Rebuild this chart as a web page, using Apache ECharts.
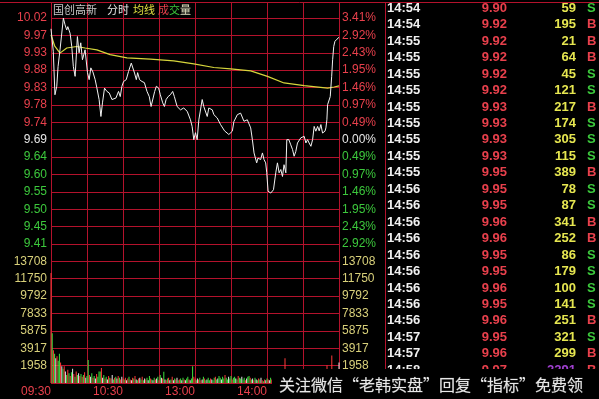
<!DOCTYPE html>
<html><head><meta charset="utf-8">
<script src="https://cdn.jsdelivr.net/npm/echarts@6/dist/echarts.min.js"></script>
<style>html,body{margin:0;padding:0;background:#000;}#c{width:599px;height:399px;}</style>
</head><body><div id="c"></div>
<script>
// ---------- data ----------
const PREV_CLOSE = 9.69;
const PCT_STEP = 3.41 / 7;
const VOL_MAX = 13708;
const priceTickLabels = ['10.02','9.97','9.93','9.88','9.83','9.78','9.74','9.69','9.64','9.60','9.55','9.50','9.45','9.41'];
const pctTickLabels = ['3.41%','2.92%','2.43%','1.95%','1.46%','0.97%','0.49%','0.00%','0.49%','0.97%','1.46%','1.95%','2.43%','2.92%'];
const volTickLabels = ['13708','11750','9792','7833','5875','3917','1958'];
const timeTickMinutes = [0, 60, 120, 180];
const timeTickLabels = ['09:30', '10:30', '13:00', '14:00'];

const priceMinutes = [0,1.9,3.3,4.8,5.9,7.5,10.3,11.7,13.1,14,15.9,17.3,18.6,20.1,22,23.4,24.8,26.2,28.4,30.4,31.8,33.2,34.9,36.8,38.2,40.1,41.6,42.9,44.6,46.6,48.5,50.8,52.1,54.1,56.3,57.7,59.1,60.5,62.7,64.6,66.9,68.3,69.6,71.1,72.2,73.8,75.8,77.8,80,81.9,83.4,85,86.4,87.8,89.7,91.1,93.1,94.5,95.9,97.6,99.5,101.4,102.8,105.1,107.9,110.6,113.5,116.2,117.6,119,120.4,121.8,123.2,126,127.3,130.2,131.5,134.4,135.7,138.5,141.3,144.6,148.2,151.1,152.4,155.3,158,160.8,163.6,166.4,167.8,169.2,171.4,172.5,174.7,176.2,177.5,178.9,179.8,180.9,183.1,185.4,187.3,188.7,190.1,191.5,192.9,194.2,195.7,196.5,198.2,199.8,201.3,202.6,204,205.4,208.2,209.6,211,212.4,213.8,215.1,216.6,218,219.3,220.7,222.2,223.5,224.9,226.3,228.3,229.1,229.9,230.5,231.9,232.7,233.9,234.7,235.6,236.6,238.3,240];
const prices = [9.991,9.930,9.812,9.835,9.889,9.934,10.020,10.002,9.988,9.997,9.979,9.943,9.889,9.862,9.970,9.926,9.953,9.907,9.934,9.872,9.853,9.885,9.874,9.853,9.831,9.799,9.753,9.790,9.830,9.821,9.817,9.799,9.794,9.803,9.821,9.807,9.835,9.848,9.853,9.875,9.898,9.898,9.871,9.853,9.872,9.853,9.848,9.845,9.821,9.807,9.780,9.776,9.821,9.835,9.830,9.812,9.790,9.780,9.799,9.807,9.812,9.821,9.807,9.780,9.771,9.776,9.767,9.744,9.726,9.690,9.709,9.690,9.744,9.799,9.780,9.753,9.776,9.771,9.758,9.749,9.731,9.714,9.704,9.713,9.739,9.758,9.762,9.740,9.744,9.722,9.690,9.654,9.627,9.640,9.636,9.654,9.636,9.627,9.600,9.550,9.545,9.554,9.600,9.627,9.600,9.609,9.590,9.622,9.600,9.690,9.690,9.676,9.663,9.645,9.658,9.681,9.695,9.690,9.699,9.681,9.690,9.681,9.672,9.690,9.726,9.713,9.726,9.714,9.731,9.708,9.713,9.722,9.744,9.785,9.790,9.807,9.862,9.907,9.943,9.957,9.963,9.968];

const avgMinutes = [0,3,7.5,13.1,21.5,28.4,38.2,49.3,63.3,82.8,102.3,119,135.7,149.7,166.4,180.4,194.2,211,230.5,236,240];
const avgPrices = [9.975,9.945,9.925,9.939,9.943,9.939,9.934,9.921,9.912,9.909,9.904,9.896,9.886,9.882,9.877,9.862,9.844,9.837,9.830,9.833,9.836];

const volumes = [
 12400,5600,3700,3300,2800,3000,2500,3300,2300,1900,
 1600,1900,1300,900,1500,1100,800,1200,1600,1000,
 700,1300,900,1100,800,1000,700,900,1200,600,
 800,2600,900,700,1100,600,800,500,1000,700,
 1300,1300,1700,600,900,500,700,400,800,600,
 500,900,400,600,700,500,800,600,400,700,
 500,400,600,300,500,700,400,300,600,500,
 800,400,300,500,600,400,700,300,500,400,
 600,300,800,500,400,300,600,400,500,700,
 300,900,600,500,1280,400,300,500,600,300,
 400,700,300,500,400,600,300,400,500,300,
 600,400,300,500,700,400,300,500,1900,700,
 500,300,500,400,600,300,400,700,500,300,
 400,600,300,500,400,300,600,700,400,500,
 800,600,400,700,500,900,600,400,700,500,
 800,400,600,700,500,400,800,600,500,700,
 400,600,300,500,700,800,600,400,500,300,
 600,400,300,500,400,600,300,200,400,300,
 500,400,300,600,400,300,500,400,300,200,
 400,300,500,400,300,2800,600,400,300,500,
 400,300,200,400,300,500,300,200,400,300,
 500,300,400,200,300,500,400,300,200,400,
 300,500,400,300,200,300,400,300,500,400,
 2000,600,500,800,3100,700,500,900,600,1100,
 2300];
const volumeSides = [
 'rgrgwrggrw','grwgrgrgwr','grgwrgrgrw','ggrwgrgwrg','ggrwgrgwrg',
 'rwgrgwrgrw','rgrwrgrwrg','rwgrwgrgwr','gwgrgwgrwg','rgwrgwrgrw',
 'grwgrwgrgw','grwggrwggr','rgwrgrwgrg','wggrwggrgw','ggwggrggwg',
 'grggwgrggw','ggrwggrgwr','gwgrgwrgrw','grwgrwgrwg','rwrgwrwrgr',
 'wrgrwrgwrw','rwrgwrwrgr','wrgrwrrwrg','rrwrrrwrrr','w'].join('');

const tickTimes = ['14:54','14:54','14:55','14:55','14:55','14:55','14:55','14:55','14:55','14:55','14:55','14:56','14:56','14:56','14:56','14:56','14:56','14:56','14:56','14:56','14:57','14:57','14:58'];
const tickPrices = ['9.90','9.92','9.92','9.92','9.92','9.92','9.93','9.93','9.93','9.93','9.95','9.95','9.95','9.96','9.96','9.95','9.95','9.96','9.95','9.96','9.95','9.96','9.97'];
const tickVols = ['59','195','21','64','45','121','217','174','305','115','389','78','87','341','252','86','179','100','141','251','321','299','2291'];
const tickSides = ['S','B','B','B','S','S','B','S','S','S','B','S','S','B','B','S','S','S','S','B','S','B','B'];

const titleParts = ['国创高新', '分时', '均线', '成', '交', '量'];
const watermark = '关注微信“老韩实盘”回复“指标”免费领';

// ---------- styles ----------
const GRID_RED = '#b3122c';
const RED = '#e8404c', GREEN = '#3cc83c', WHITE = '#e6e6e6', VOLY = '#d8d07a';
const FONT = 'Liberation Sans, Arial, sans-serif';
const barColors = { r: '#ff3a3a', g: '#3ee03e', w: '#e8e8e8' };

const ROW = 365 / 21;
const PLOT_L = 51, PLOT_W = 288, TOP = 18;

const pctMin = -6 * PCT_STEP, pctMax = 7 * PCT_STEP;
const priceMin = PREV_CLOSE * (1 + pctMin / 100), priceMax = PREV_CLOSE * (1 + pctMax / 100);
const VOL_STEP = VOL_MAX / 7;

const rich = {
  r: { color: RED, fontSize: 12, fontFamily: FONT },
  g: { color: GREEN, fontSize: 12, fontFamily: FONT },
  w: { color: WHITE, fontSize: 12, fontFamily: FONT },
  y: { color: VOLY, fontSize: 12, fontFamily: FONT }
};
function pctIdx(v) { return 7 - Math.round(v / PCT_STEP); }
function cls(v) { const k = Math.round(v / PCT_STEP); return k > 0 ? 'r' : (k < 0 ? 'g' : 'w'); }

const chart = echarts.init(document.getElementById('c'), null, { renderer: 'canvas' });

const graphics = [];
// top border and right panel divider
graphics.push({ type: 'line', shape: { x1: 0, y1: 2.5, x2: 599, y2: 2.5 }, style: { stroke: GRID_RED, lineWidth: 1 }, z: 10 });
graphics.push({ type: 'line', shape: { x1: 385.5, y1: 2, x2: 385.5, y2: 399 }, style: { stroke: GRID_RED, lineWidth: 1 }, z: 10 });
// title
const titleX = [53, 107, 133, 158, 169, 180];
const titleC = ['#c8c8c8', WHITE, '#e0e040', RED, GREEN, '#e0e0c0'];
titleParts.forEach((t, i) => graphics.push({ type: 'text', z: 20, style: {
  text: t, x: titleX[i], y: 10, fill: titleC[i], font: '11px "Noto Sans CJK SC"',
  align: 'left', verticalAlign: 'middle', textAlign: 'left', textVerticalAlign: 'middle' } }));
// right panel
tickTimes.forEach((t, i) => {
  const y = 8.3 + i * 16.45;
  const f = 'bold 13px ' + FONT;
  graphics.push({ type: 'text', z: 20, style: { text: t, x: 387, y, fill: '#f0f0f0', font: f, align: 'left', verticalAlign: 'middle', textAlign: 'left', textVerticalAlign: 'middle' } });
  graphics.push({ type: 'text', z: 20, style: { text: tickPrices[i], x: 507, y, fill: RED, font: f, align: 'right', verticalAlign: 'middle', textAlign: 'right', textVerticalAlign: 'middle' } });
  graphics.push({ type: 'text', z: 20, style: { text: tickVols[i], x: 576, y, fill: +tickVols[i] > 1000 ? '#a040d0' : '#e6e650', font: f, align: 'right', verticalAlign: 'middle', textAlign: 'right', textVerticalAlign: 'middle' } });
  graphics.push({ type: 'text', z: 20, style: { text: tickSides[i], x: 587, y, fill: tickSides[i] === 'B' ? RED : GREEN, font: f, align: 'left', verticalAlign: 'middle', textAlign: 'left', textVerticalAlign: 'middle' } });
});
// watermark band
graphics.push({ type: 'rect', z: 50, shape: { x: 272, y: 369, width: 327, height: 30 }, style: { fill: '#000' } });
graphics.push({ type: 'text', z: 51, style: { text: watermark, x: 279, y: 385, fill: '#e8e8e8', font: '16px "Noto Sans CJK SC"', align: 'left', verticalAlign: 'middle', textAlign: 'left', textVerticalAlign: 'middle', stroke: '#444', lineWidth: 0.6 } });

const option = {
  animation: false,
  backgroundColor: '#000',
  grid: [
    { left: PLOT_L, width: PLOT_W, top: TOP, height: 13 * ROW },
    { left: PLOT_L, width: PLOT_W, top: TOP + 14 * ROW, height: 7 * ROW },
    { left: PLOT_L, width: PLOT_W, top: 2.5, height: 383 - 2.5 }
  ],
  xAxis: [
    { gridIndex: 0, type: 'value', min: 0, max: 240, show: false },
    { gridIndex: 1, type: 'value', min: 0, max: 240, interval: 30,
      axisLine: { show: false }, axisTick: { show: false }, splitLine: { show: false },
      axisLabel: { show: true, align: 'right', margin: 3, color: RED, fontSize: 12, fontFamily: FONT,
        showMinLabel: true, showMaxLabel: true,
        formatter: v => { const i = timeTickMinutes.indexOf(Math.round(v)); return i >= 0 ? timeTickLabels[i] : ''; } } },
    { gridIndex: 2, type: 'value', min: 0, max: 240, interval: 30,
      axisLine: { show: false }, axisTick: { show: false }, axisLabel: { show: false },
      splitLine: { show: true, lineStyle: { color: GRID_RED, width: 1 } } }
  ],
  yAxis: [
    { gridIndex: 0, type: 'value', min: priceMin, max: priceMax, show: false },
    { gridIndex: 0, type: 'value', position: 'left', min: pctMin, max: pctMax, interval: PCT_STEP,
      axisLine: { show: false }, axisTick: { show: false },
      splitLine: { show: true, lineStyle: { color: GRID_RED, width: 1 } },
      axisLabel: { margin: 4, showMinLabel: true, showMaxLabel: true, rich,
        formatter: v => { const t = priceTickLabels[pctIdx(v)]; return t ? '{' + cls(v) + '|' + t + '}' : ''; } } },
    { gridIndex: 0, type: 'value', position: 'right', min: pctMin, max: pctMax, interval: PCT_STEP,
      axisLine: { show: false }, axisTick: { show: false }, splitLine: { show: false },
      axisLabel: { margin: 3, showMinLabel: true, showMaxLabel: true, rich,
        formatter: v => { const t = pctTickLabels[pctIdx(v)]; return t ? '{' + cls(v) + '|' + t + '}' : ''; } } },
    { gridIndex: 1, type: 'value', position: 'left', min: 0, max: VOL_MAX, interval: VOL_STEP,
      axisLine: { show: false }, axisTick: { show: false },
      splitLine: { show: true, lineStyle: { color: GRID_RED, width: 1 } },
      axisLabel: { margin: 4, showMinLabel: true, showMaxLabel: true, rich,
        formatter: v => { const t = volTickLabels[7 - Math.round(v / VOL_STEP)]; return t ? '{y|' + t + '}' : ''; } } },
    { gridIndex: 1, type: 'value', position: 'right', min: 0, max: VOL_MAX, interval: VOL_STEP,
      axisLine: { show: false }, axisTick: { show: false }, splitLine: { show: false },
      axisLabel: { margin: 3, showMinLabel: true, showMaxLabel: true, rich,
        formatter: v => { const t = volTickLabels[7 - Math.round(v / VOL_STEP)]; return t ? '{y|' + t + '}' : ''; } } },
    { gridIndex: 2, type: 'value', min: 0, max: 1, show: false }
  ],
  series: [
    { type: 'line', xAxisIndex: 0, yAxisIndex: 0, showSymbol: false, symbol: 'none',
      data: priceMinutes.map((m, i) => [m, prices[i]]),
      lineStyle: { color: '#f2f2f2', width: 1 }, z: 5 },
    { type: 'line', xAxisIndex: 0, yAxisIndex: 0, showSymbol: false, symbol: 'none',
      data: avgMinutes.map((m, i) => [m, avgPrices[i]]),
      lineStyle: { color: '#d6d63c', width: 1.2 }, z: 4 },
    { type: 'bar', xAxisIndex: 1, yAxisIndex: 3, barWidth: 1,
      data: volumes.map((v, i) => ({ value: [i, v], itemStyle: { color: barColors[volumeSides[i]] } })), z: 3 }
  ],
  graphic: graphics
};
chart.setOption(option);
</script>
</body></html>
